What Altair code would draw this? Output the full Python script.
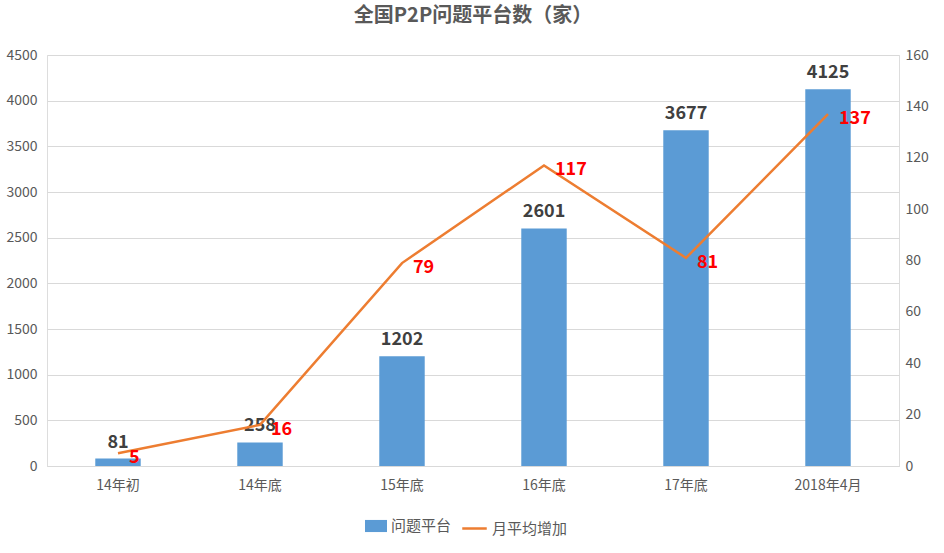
import altair as alt
import pandas as pd

categories = ["14年初", "14年底", "15年底", "16年底", "17年底", "2018年4月"]
platforms = [81, 258, 1202, 2601, 3677, 4125]
monthly = [5, 16, 79, 117, 81, 137]
bar_series = "问题平台"
line_series = "月平均增加"

df = pd.DataFrame({
    "cat": categories,
    "platforms": platforms,
    "monthly": monthly,
    "s1": bar_series,
    "s2": line_series,
})

FONT = "Liberation Sans Narrow, Noto Sans CJK SC, sans-serif"
CJK = "Noto Sans CJK SC"
GRAY = "#595959"

x = alt.X(
    "cat:N",
    sort=categories,
    scale=alt.Scale(paddingInner=0.68, paddingOuter=0.34),
    axis=alt.Axis(title=None, labelAngle=0, ticks=False, domainColor="#D9D9D9",
                  labelColor=GRAY, labelFontSize=14, labelFont=CJK, labelPadding=12),
)

ybar = alt.Y(
    "platforms:Q",
    scale=alt.Scale(domain=[0, 4500], nice=False),
    axis=alt.Axis(title=None, values=list(range(0, 4501, 500)), format="d", orient="left",
                  domain=False, ticks=False, gridColor="#D9D9D9", labelColor=GRAY,
                  labelFontSize=14, labelFont=FONT, labelPadding=10),
)

base = alt.Chart(df)

bars = base.mark_bar().encode(
    x=x,
    y=ybar,
    color=alt.Color("s1:N", scale=alt.Scale(range=["#5B9BD5"]),
                    legend=alt.Legend(title=None, orient="none", legendX=318, legendY=460,
                                      symbolType="M-1,-0.55H1V0.55H-1Z", symbolSize=484,
                                      symbolStrokeWidth=0, labelFontSize=15, labelColor=GRAY,
                                      labelFont=CJK, labelOffset=4)),
)

bar_text = base.mark_text(baseline="bottom", dy=-7, fontSize=18, fontWeight="bold",
                          color="#404040", font=FONT).encode(
    x=alt.X("cat:N", sort=categories),
    y=alt.Y("platforms:Q"),
    text=alt.Text("platforms:Q", format="d"),
)

left = alt.layer(bars, bar_text)

yline = alt.Y(
    "monthly:Q",
    scale=alt.Scale(domain=[0, 160], nice=False),
    axis=alt.Axis(title=None, values=list(range(0, 161, 20)), format="d", orient="right",
                  domain=False, ticks=False, grid=False, labelColor=GRAY, labelFontSize=14,
                  labelFont=FONT, labelPadding=6),
)

line = base.mark_line(strokeWidth=2.5).encode(
    x=alt.X("cat:N", sort=categories),
    y=yline,
    stroke=alt.Stroke("s2:N", scale=alt.Scale(range=["#ED7D31"]),
                      legend=alt.Legend(title=None, orient="none", legendX=414, legendY=460,
                                        symbolType="stroke", symbolSize=600,
                                        symbolStrokeWidth=2.5, labelFontSize=15,
                                        labelColor=GRAY, labelFont=CJK, labelOffset=4)),
)

line_text = base.mark_text(align="left", baseline="middle", dx=11, dy=5, fontSize=18,
                           fontWeight="bold", color="#FF0000", font=FONT).encode(
    x=alt.X("cat:N", sort=categories),
    y=alt.Y("monthly:Q"),
    text=alt.Text("monthly:Q", format="d"),
)

right = alt.layer(line, line_text)

chart = alt.layer(left, right).resolve_scale(
    y="independent", color="independent", stroke="independent"
).properties(
    width=852,
    height=411,
    padding={"left": 47, "top": 55, "right": 45, "bottom": 87},
    autosize=alt.AutoSizeParams(type="none"),
    title=alt.Title("全国P2P问题平台数（家）", fontSize=20, fontWeight="bold", color=GRAY,
                    font=CJK, anchor="middle", offset=22),
).configure_view(strokeWidth=0).configure(background="white")

chart.save("out.html", embed_options={"renderer": "svg", "actions": False})
